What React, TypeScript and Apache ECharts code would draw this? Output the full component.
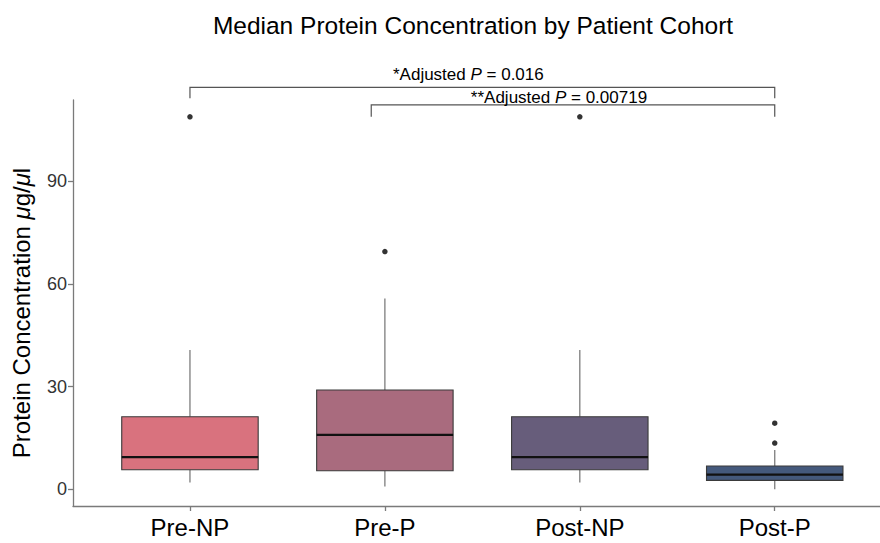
import { useEffect, useRef } from 'react';
import * as echarts from 'echarts';

const categories = ['Pre-NP', 'Pre-P', 'Post-NP', 'Post-P'];
const whiskerLow = [2.0, 0.8, 2.0, 0.0];
const q1 = [5.7, 5.4, 5.7, 2.6];
const median = [9.4, 15.9, 9.4, 4.3];
const q3 = [21.2, 29.0, 21.2, 6.8];
const whiskerHigh = [40.7, 55.8, 40.7, 11.5];
const outlierCategory = [0, 1, 2, 3, 3];
const outlierValue = [108.9, 69.5, 108.9, 19.3, 13.5];
const boxColors = ['#D9727E', '#A96B7E', '#675D7B', '#44597C'];
const yTicks = [0, 30, 60, 90];
const xTicks = [0, 1, 2, 3];

// significance brackets: from / to (category position), bracket top, bracket foot, label bottom
const bracketFrom = [0, 0.93];
const bracketTo = [3, 3];
const bracketTop = [117.5, 112.4];
const bracketFoot = [114.3, 108.9];
const bracketLabelY = [118.9, 112.0];
const bracketPrefix = ['*Adjusted ', '**Adjusted '];
const bracketP = ['0.016', '0.00719'];

const FONT = '"Liberation Sans", Arial, Helvetica, sans-serif';

export default function App() {
  const ref = useRef<HTMLDivElement>(null);

  useEffect(() => {
    if (!ref.current) return;
    const chart = echarts.init(ref.current, undefined, { renderer: 'svg' });

    const boxData = categories.map((_, i) => [i, whiskerLow[i], q1[i], median[i], q3[i], whiskerHigh[i]]);
    const outlierData = outlierCategory.map((c, i) => [c, outlierValue[i]]);
    const bracketData = bracketFrom.map((f, i) => [f, bracketTo[i], bracketTop[i], bracketFoot[i], bracketLabelY[i], i]);

    chart.setOption({
      animation: false,
      backgroundColor: '#ffffff',
      textStyle: { fontFamily: FONT },
      title: {
        text: 'Median Protein Concentration by Patient Cohort',
        left: 468,
        top: 8,
        textAlign: 'center',
        textStyle: { fontFamily: FONT, fontSize: 24.5, fontWeight: 'normal', color: '#000' },
      },
      grid: { left: 73, top: 100, bottom: 37, right: 0, containLabel: false },
      xAxis: {
        type: 'value',
        min: -0.6,
        max: 3.54,
        axisLine: { show: true, onZero: false, lineStyle: { color: '#7a7a7a', width: 1.3 } },
        axisTick: { show: true, customValues: xTicks, length: 5, lineStyle: { color: '#7a7a7a', width: 1.3 } },
        axisLabel: {
          customValues: xTicks,
          formatter: (v: number) => categories[Math.round(v)] ?? '',
          fontFamily: FONT,
          fontSize: 24,
          color: '#000',
          margin: 9,
        },
        splitLine: { show: false },
      },
      yAxis: {
        type: 'value',
        min: -4.9,
        max: 113.8,
        name: 'Protein Concentration {i|μ}g/{i|μ}l',
        nameLocation: 'middle',
        nameGap: 40,
        nameTextStyle: {
          fontFamily: FONT,
          fontSize: 24,
          color: '#000',
          padding: [0, 20, 0, 0],
          rich: { i: { fontStyle: 'italic', fontFamily: FONT, fontSize: 24, color: '#000' } },
        },
        axisLine: { show: true, onZero: false, lineStyle: { color: '#7a7a7a', width: 1.3 } },
        axisTick: { show: true, customValues: yTicks, length: 5, lineStyle: { color: '#7a7a7a', width: 1.3 } },
        axisLabel: { customValues: yTicks, fontFamily: FONT, fontSize: 18, color: '#333', margin: 6 },
        splitLine: { show: false },
      },
      series: [
        {
          type: 'custom',
          name: 'boxes',
          data: boxData,
          encode: { x: 0, y: [1, 2, 3, 4, 5] },
          renderItem: (params: any, api: any) => {
            const i = api.value(0);
            const cx = api.coord([i, 0])[0];
            const halfW = api.size([0.7, 0])[0] / 2;
            const yLo = api.coord([i, api.value(1)])[1];
            const yQ1 = api.coord([i, api.value(2)])[1];
            const yMed = api.coord([i, api.value(3)])[1];
            const yQ3 = api.coord([i, api.value(4)])[1];
            const yHi = api.coord([i, api.value(5)])[1];
            return {
              type: 'group',
              children: [
                { type: 'line', shape: { x1: cx, y1: yQ3, x2: cx, y2: yHi }, style: { stroke: '#7d7d7d', lineWidth: 1.3 } },
                { type: 'line', shape: { x1: cx, y1: yQ1, x2: cx, y2: yLo }, style: { stroke: '#7d7d7d', lineWidth: 1.3 } },
                {
                  type: 'rect',
                  shape: { x: cx - halfW, y: yQ3, width: 2 * halfW, height: yQ1 - yQ3 },
                  style: { fill: boxColors[i], stroke: '#3a3a3a', lineWidth: 1.1 },
                },
                {
                  type: 'line',
                  shape: { x1: cx - halfW, y1: yMed, x2: cx + halfW, y2: yMed },
                  style: { stroke: '#111111', lineWidth: 2.2 },
                },
              ],
            };
          },
          z: 2,
        },
        {
          type: 'scatter',
          name: 'outliers',
          data: outlierData,
          symbol: 'circle',
          symbolSize: 5.5,
          itemStyle: { color: '#000' },
          z: 3,
        },
        {
          type: 'custom',
          name: 'brackets',
          data: bracketData,
          clip: false,
          encode: { x: [0, 1], y: [2, 3, 4] },
          renderItem: (params: any, api: any) => {
            const x1 = api.coord([api.value(0), 0])[0];
            const x2 = api.coord([api.value(1), 0])[0];
            const yTop = api.coord([0, api.value(2)])[1];
            const yFoot = api.coord([0, api.value(3)])[1];
            const yLabel = api.coord([0, api.value(4)])[1];
            const k = api.value(5);
            return {
              type: 'group',
              children: [
                {
                  type: 'polyline',
                  shape: { points: [[x1, yFoot], [x1, yTop], [x2, yTop], [x2, yFoot]] },
                  style: { stroke: '#555555', lineWidth: 1.2, fill: 'none' },
                },
                {
                  type: 'text',
                  x: (x1 + x2) / 2 - 14,
                  y: yLabel,
                  style: {
                    text: bracketPrefix[k] + '{i|P} = ' + bracketP[k],
                    fontFamily: FONT,
                    fontSize: 17,
                    fill: '#000',
                    align: 'center',
                    verticalAlign: 'bottom',
                    rich: { i: { fontStyle: 'italic', fontFamily: FONT, fontSize: 17, fill: '#000', color: '#000' } },
                  },
                },
              ],
            };
          },
          z: 4,
        },
      ],
    });

    return () => chart.dispose();
  }, []);

  return <div ref={ref} style={{ width: 880, height: 543, position: 'absolute', left: 0, top: 0 }} />;
}
